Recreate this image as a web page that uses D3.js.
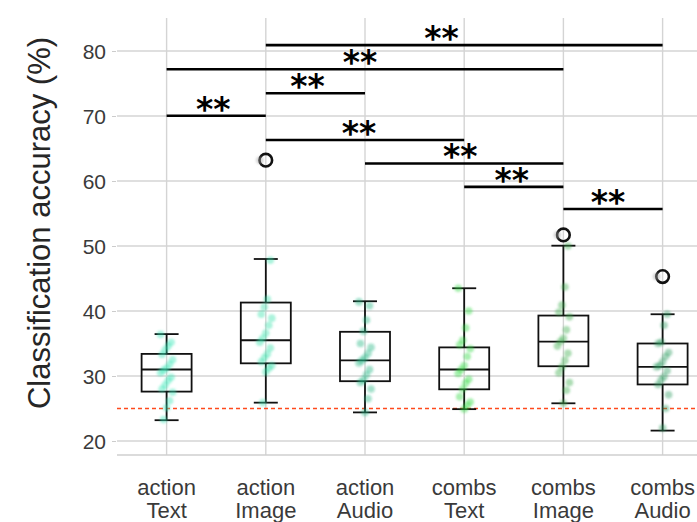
<!DOCTYPE html>
<html>
<head>
<meta charset="utf-8">
<script src="https://cdn.jsdelivr.net/npm/d3@7"></script>
<style>
  html, body { margin: 0; padding: 0; background: #fff; }
  svg { display: block; }
</style>
</head>
<body>
<svg id="chart" width="697" height="522"></svg>
<script>
// Category labels (two lines each)
const taskLabels = ["action", "action", "action", "combs", "combs", "combs"];
const modalityLabels = ["Text", "Image", "Audio", "Text", "Image", "Audio"];

// Box-plot summaries per category
const whiskerLow  = [23.2, 25.9, 24.4, 24.9, 25.8, 21.6];
const q1          = [27.6, 31.95, 29.2, 27.95, 31.5, 28.7];
const medians     = [31.0, 35.5, 32.4, 31.0, 35.3, 31.4];
const q3          = [33.4, 41.3, 36.8, 34.4, 39.3, 35.0];
const whiskerHigh = [36.45, 48.0, 41.5, 43.5, 50.05, 39.5];
const outliers    = [[], [63.2], [], [], [51.7], [45.3]];

// Individual accuracies per category
const actionText  = [36.4, 35.2, 34.6, 34.0, 33.3, 32.5, 31.8, 31.2, 30.9, 30.5, 29.8, 29.3, 28.6, 28.0, 27.5, 26.2, 25.1, 23.3];
const actionImage = [63.2, 47.8, 41.8, 40.6, 39.5, 38.9, 37.8, 36.6, 35.8, 35.2, 34.3, 33.4, 32.8, 32.2, 31.6, 31.2, 30.6, 25.9];
const actionAudio = [41.4, 40.8, 38.6, 36.9, 35.0, 34.4, 33.5, 32.8, 32.4, 32.0, 31.0, 30.2, 29.4, 29.0, 28.0, 26.5, 24.4];
const combsText   = [43.5, 40.0, 37.4, 35.5, 34.8, 34.2, 33.0, 31.6, 31.0, 30.4, 29.5, 28.9, 28.0, 26.8, 26.0, 25.5, 24.9];
const combsImage  = [51.7, 50.0, 43.7, 40.9, 39.8, 39.1, 37.1, 35.8, 35.3, 34.6, 33.5, 32.4, 31.4, 30.5, 29.0, 27.8, 25.8];
const combsAudio  = [45.3, 39.5, 37.8, 35.2, 35.0, 33.6, 33.0, 32.2, 31.6, 31.4, 30.8, 29.9, 29.4, 28.7, 27.1, 25.0, 22.0];
const pointSeries = [actionText, actionImage, actionAudio, combsText, combsImage, combsAudio];

// Chance level
const chanceLevel = 25;

// Axis ticks
const yTicks = [20, 30, 40, 50, 60, 70, 80];

// Pairwise significance brackets
const bracketFrom   = [1, 0, 1, 0, 1, 2, 3, 4];
const bracketTo     = [5, 4, 2, 1, 3, 4, 4, 5];
const bracketLevel  = [80.9, 77.2, 73.5, 70.05, 66.3, 62.7, 59.1, 55.7];
const bracketText   = ["**", "**", "**", "**", "**", "**", "**", "**"];
const bracketTextAt = [2.77, 1.95, 1.42, 0.47, 1.94, 2.96, 3.48, 4.45];

const pointColors = ["#3ae8b8", "#36e2ac", "#22b886", "#33dc40", "#3cae4c", "#2e9e62"];

const svg = d3.select("#chart");
const W = 697, H = 522;
const panelLeft = 117, panelTop = 18, panelBottom = 455;

const idx = d3.range(taskLabels.length);
const x = d3.scaleBand().domain(idx).range([panelLeft, panelLeft + 6 * 99.2]).padding(0);
const cx = i => x(i) + x.bandwidth() / 2;
const xc = d3.scaleLinear().domain([0, 5]).range([cx(0), cx(5)]);
const y = d3.scaleLinear().domain([20, 80]).range([441, 51]);

const defs = svg.append("defs");
defs.append("filter").attr("id", "soft")
  .append("feGaussianBlur").attr("stdDeviation", 1.2);

// Grid
const grid = svg.append("g");
grid.selectAll("line.h").data(yTicks).join("line")
  .attr("x1", panelLeft).attr("x2", W)
  .attr("y1", d => y(d)).attr("y2", d => y(d))
  .attr("stroke", "#d4d4d4").attr("stroke-width", 1.4);
grid.selectAll("line.v").data(idx).join("line")
  .attr("x1", d => cx(d)).attr("x2", d => cx(d))
  .attr("y1", panelTop).attr("y2", panelBottom)
  .attr("stroke", "#d4d4d4").attr("stroke-width", 1.4);
grid.append("line")
  .attr("x1", panelLeft).attr("x2", W).attr("y1", panelBottom).attr("y2", panelBottom)
  .attr("stroke", "#cfcfcf").attr("stroke-width", 1.6);

// Y axis
const yAxis = d3.axisLeft(y).tickValues(yTicks).tickSize(4).tickPadding(6);
const yg = svg.append("g").attr("transform", `translate(${panelLeft - 1},0)`).call(yAxis);
yg.select(".domain").remove();
yg.selectAll(".tick line").attr("stroke", "#cccccc");
yg.selectAll(".tick text")
  .attr("font-family", "'Liberation Sans', Arial, sans-serif")
  .attr("font-size", 21).attr("fill", "#3a3a3a").attr("dy", "0.36em");

svg.append("text")
  .attr("transform", `translate(50,${223}) rotate(-90)`)
  .attr("text-anchor", "middle")
  .attr("font-family", "'Liberation Sans', Arial, sans-serif")
  .attr("font-size", 31).attr("fill", "#262626")
  .text("Classification accuracy (%)");

// X labels
const xl = svg.append("g")
  .attr("font-family", "'Liberation Sans', Arial, sans-serif")
  .attr("font-size", 22).attr("fill", "#3a3a3a").attr("text-anchor", "middle");
xl.selectAll("text.t").data(idx).join("text")
  .attr("x", d => cx(d)).attr("y", 495).text(d => taskLabels[d]);
xl.selectAll("text.m").data(idx).join("text")
  .attr("x", d => cx(d)).attr("y", 518).text(d => modalityLabels[d]);

// Chance line
svg.append("line")
  .attr("x1", panelLeft).attr("x2", W)
  .attr("y1", y(chanceLevel)).attr("y2", y(chanceLevel))
  .attr("stroke", "#ff4a1c").attr("stroke-width", 1.6)
  .attr("stroke-dasharray", "4,3");

// Box plots
const boxW = 50, capW = 24;
const boxes = svg.append("g").attr("stroke", "#111").attr("stroke-width", 1.8).attr("fill", "none");
idx.forEach(i => {
  const c = cx(i);
  boxes.append("line").attr("x1", c).attr("x2", c).attr("y1", y(whiskerHigh[i])).attr("y2", y(q3[i]));
  boxes.append("line").attr("x1", c).attr("x2", c).attr("y1", y(q1[i])).attr("y2", y(whiskerLow[i]));
  boxes.append("line").attr("x1", c - capW / 2).attr("x2", c + capW / 2).attr("y1", y(whiskerHigh[i])).attr("y2", y(whiskerHigh[i]));
  boxes.append("line").attr("x1", c - capW / 2).attr("x2", c + capW / 2).attr("y1", y(whiskerLow[i])).attr("y2", y(whiskerLow[i]));
  boxes.append("rect").attr("x", c - boxW / 2).attr("width", boxW)
    .attr("y", y(q3[i])).attr("height", y(q1[i]) - y(q3[i]));
  boxes.append("line").attr("x1", c - boxW / 2).attr("x2", c + boxW / 2).attr("y1", y(medians[i])).attr("y2", y(medians[i]));
  outliers[i].forEach(v => {
    boxes.append("circle").attr("cx", c).attr("cy", y(v)).attr("r", 6.3).attr("stroke-width", 2.6);
  });
});

// Jittered individual points
const jitter = k => (((k * 7) % 9) - 4) * 1.5;
const pts = svg.append("g").attr("filter", "url(#soft)");
pointSeries.forEach((vals, i) => {
  pts.selectAll(null).data(vals).join("circle")
    .attr("cx", (d, k) => cx(i) + jitter(k))
    .attr("cy", d => y(d))
    .attr("r", 3.8)
    .attr("fill", (d, k) => outliers[i].includes(d) ? "#9a9a9a" : pointColors[i])
    .attr("fill-opacity", 0.42);
});

// Significance brackets
const br = svg.append("g");
bracketLevel.forEach((lv, j) => {
  br.append("line")
    .attr("x1", cx(bracketFrom[j])).attr("x2", cx(bracketTo[j]))
    .attr("y1", y(lv)).attr("y2", y(lv))
    .attr("stroke", "#000").attr("stroke-width", 2.6);
  br.append("text")
    .attr("x", xc(bracketTextAt[j])).attr("y", y(lv) + 5)
    .attr("text-anchor", "middle")
    .attr("font-family", "'DejaVu Sans', sans-serif")
    .attr("font-weight", "bold")
    .attr("font-size", 33).attr("fill", "#000")
    .text(bracketText[j]);
});
</script>
</body>
</html>
